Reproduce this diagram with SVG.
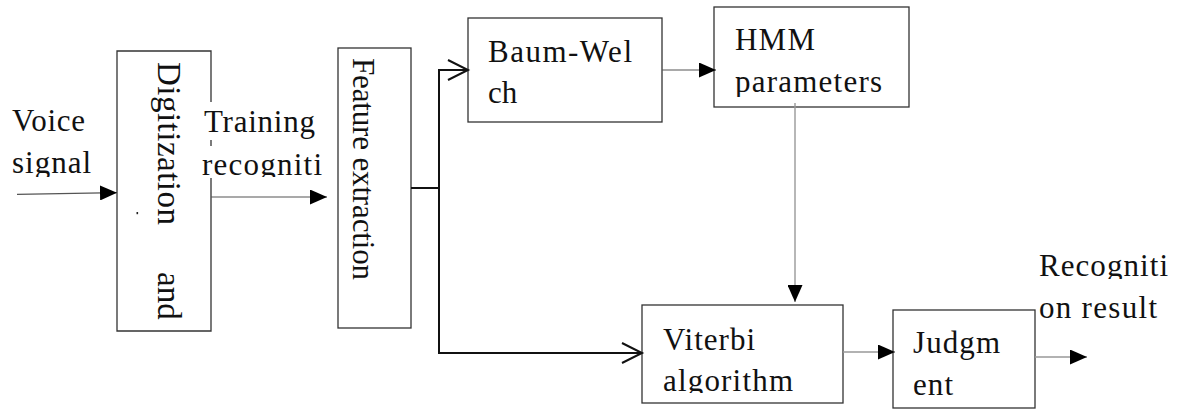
<svg xmlns="http://www.w3.org/2000/svg" width="1178" height="410" viewBox="0 0 1178 410">
<style>
.box{fill:#fff;stroke:#333;stroke-width:1.3}
.t{font-family:"Liberation Serif","Times New Roman",serif;font-size:31px;fill:#111}
.v{font-family:"Liberation Serif","Times New Roman",serif;font-size:33px;fill:#111}
.f{font-family:"Liberation Serif","Times New Roman",serif;font-size:31px;fill:#111}
.thin{fill:none;stroke:#555;stroke-width:1.2}
.gray{fill:none;stroke:#999;stroke-width:1.4}
.thick{fill:none;stroke:#111;stroke-width:2}
</style>
<defs>
<marker id="tri" markerUnits="userSpaceOnUse" markerWidth="17" markerHeight="15" refX="17" refY="7.5" orient="auto">
<path d="M0,0 L17,7.5 L0,15 Z" fill="#000"/>
</marker>
<marker id="chev" markerUnits="userSpaceOnUse" markerWidth="24" markerHeight="24" refX="21" refY="12" orient="auto">
<path d="M1,2 L21,12 L1,22" fill="none" stroke="#111" stroke-width="2"/>
</marker>
<clipPath id="c1"><rect x="0" y="0" width="200" height="177"/></clipPath>
<clipPath id="c2"><rect x="195" y="100" width="140" height="77"/></clipPath>
<clipPath id="c3"><rect x="715" y="8" width="190" height="89"/></clipPath>
<clipPath id="c4"><rect x="643" y="306" width="199" height="87"/></clipPath>
<clipPath id="c5"><rect x="1036" y="240" width="142" height="39"/></clipPath>
</defs>

<g id="voice-signal">
<text class="t" x="12" y="131" textLength="73" lengthAdjust="spacing">Voice</text>
<text class="t" x="12" y="173" textLength="79" lengthAdjust="spacing" clip-path="url(#c1)">signal</text>
</g>

<g id="digitization">
<path class="box" d="M211,102 V51 H117 V331 H211 V178"/>
<line x1="211" y1="140" x2="211" y2="146" stroke="#333" stroke-width="1.3"/>
<text class="v" transform="translate(158,62) rotate(90)" textLength="163" lengthAdjust="spacing">Digitization</text>
<text class="v" transform="translate(158,272) rotate(90)">and</text>
<rect x="136.5" y="212" width="1.6" height="2.2" fill="#222"/>
</g>

<g id="training-label">
<text class="t" x="204" y="132" textLength="111" lengthAdjust="spacing">Training</text>
<text class="t" x="202" y="175" textLength="120" lengthAdjust="spacing" clip-path="url(#c2)">recogniti</text>
</g>

<g id="feature-extraction">
<rect class="box" x="338" y="48" width="73" height="280"/>
<text class="f" transform="translate(353,58) rotate(90)" textLength="222" lengthAdjust="spacing">Feature extraction</text>
</g>

<g id="baum-welch">
<rect class="box" x="468" y="18" width="194" height="104"/>
<text class="t" x="488" y="62" textLength="144" lengthAdjust="spacing">Baum-Wel</text>
<text class="t" x="488" y="103">ch</text>
</g>

<g id="hmm-parameters">
<rect class="box" x="714" y="7" width="195" height="100"/>
<text class="t" x="735" y="50" textLength="80" lengthAdjust="spacing">HMM</text>
<text class="t" x="735" y="92" textLength="147" lengthAdjust="spacing" clip-path="url(#c3)">parameters</text>
</g>

<g id="viterbi">
<rect class="box" x="642" y="305" width="201" height="98"/>
<text class="t" x="663" y="350" textLength="92" lengthAdjust="spacing">Viterbi</text>
<text class="t" x="663" y="391" textLength="130" lengthAdjust="spacing" clip-path="url(#c4)">algorithm</text>
</g>

<g id="judgment">
<rect class="box" x="893" y="310" width="142" height="98"/>
<text class="t" x="913" y="353" textLength="87" lengthAdjust="spacing">Judgm</text>
<text class="t" x="913" y="395" textLength="40" lengthAdjust="spacing">ent</text>
</g>

<g id="recognition-result">
<text class="t" x="1039" y="276" textLength="129" lengthAdjust="spacing" clip-path="url(#c5)">Recogniti</text>
<text class="t" x="1039" y="318" textLength="118" lengthAdjust="spacing">on result</text>
</g>

<g id="connectors">
<path class="thin" d="M17,194.3 L117,192.7" marker-end="url(#tri)"/>
<path class="thin" d="M211,197 H327" marker-end="url(#tri)"/>
<path class="thick" d="M411,188 H439 V70 H468" marker-end="url(#chev)"/>
<path class="thick" d="M439,188 V353 H642" marker-end="url(#chev)"/>
<path class="thin" d="M662,70 H716" marker-end="url(#tri)"/>
<path class="gray" d="M795,103 V302" marker-end="url(#tri)"/>
<path class="gray" d="M843,352 H895" marker-end="url(#tri)"/>
<path class="gray" d="M1035,357 H1087" marker-end="url(#tri)"/>
</g>
</svg>
